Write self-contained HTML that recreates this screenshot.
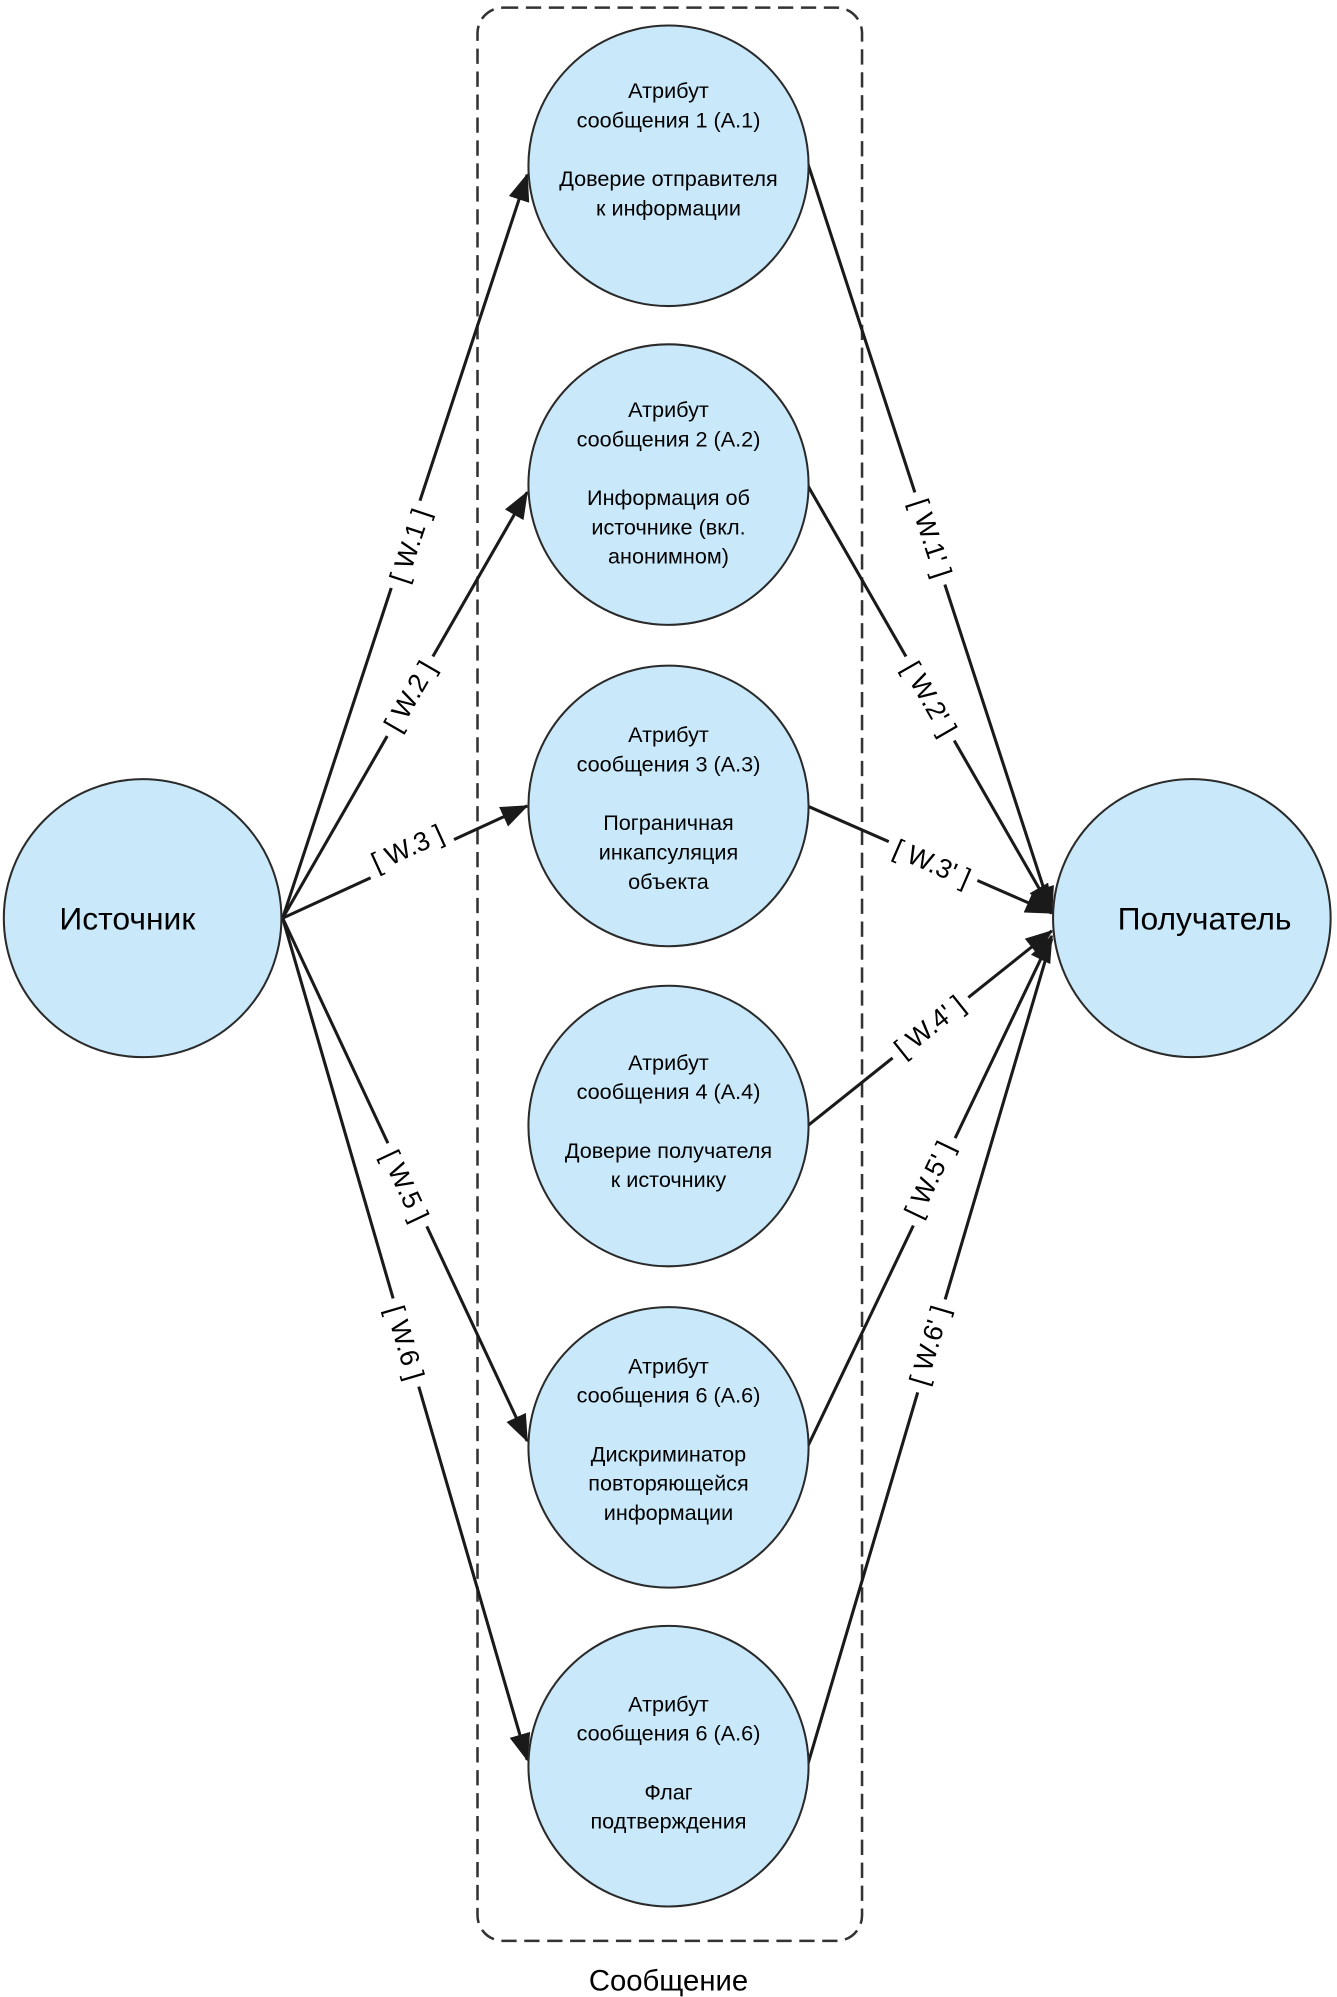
<!DOCTYPE html>
<html><head><meta charset="utf-8"><style>
html,body{margin:0;padding:0;background:#fff;}
svg{display:block;}
text{font-family:"Liberation Sans",Arial,sans-serif;fill:#000;}
.c{fill:#c9e9fa;stroke:#2a2a2a;stroke-width:1.6;}
.t{font-size:17px;text-anchor:middle;}
.l{font-size:21px;text-anchor:middle;dominant-baseline:central;}
.ln{stroke:#1a1a1a;stroke-width:2.4;fill:none;}
</style></head><body>
<svg width="1337" height="1997" viewBox="0 0 1050 1566" preserveAspectRatio="none">
<defs><marker id="a" markerWidth="9" markerHeight="7" refX="8.5" refY="3.5" orient="auto" markerUnits="strokeWidth"><path d="M0,0 L9,3.5 L0,7 z" fill="#1a1a1a"/></marker></defs>
<rect x="375" y="6" width="302" height="1516" rx="20" fill="none" stroke="#333" stroke-width="2" stroke-dasharray="12,6"/>
<text x="525" y="1561" font-size="23" text-anchor="middle">Сообщение</text>

<g class="ln">
<line x1="222" y1="720" x2="414" y2="137" marker-end="url(#a)"/>
<line x1="222" y1="720" x2="414" y2="386" marker-end="url(#a)"/>
<line x1="222" y1="720" x2="414" y2="632" marker-end="url(#a)"/>
<line x1="222" y1="720" x2="414" y2="1130" marker-end="url(#a)"/>
<line x1="222" y1="720" x2="414" y2="1380" marker-end="url(#a)"/>
<line x1="634" y1="127" x2="826" y2="716" marker-end="url(#a)"/>
<line x1="634" y1="380" x2="826" y2="714" marker-end="url(#a)"/>
<line x1="634" y1="632" x2="826" y2="716" marker-end="url(#a)"/>
<line x1="634" y1="883" x2="826" y2="730" marker-end="url(#a)"/>
<line x1="634" y1="1135" x2="826" y2="734" marker-end="url(#a)"/>
<line x1="634" y1="1385" x2="826" y2="736"/>
</g>

<circle class="c" cx="112" cy="720" r="109"/>
<text x="100" y="729" font-size="25" text-anchor="middle">Источник</text>
<circle class="c" cx="936" cy="720" r="109"/>
<text x="946" y="729" font-size="25" text-anchor="middle">Получатель</text>

<circle class="c" cx="525" cy="130" r="110"/>
<text class="t" x="525" y="77">Атрибут</text><text class="t" x="525" y="100">сообщения 1 (А.1)</text>
<text class="t" x="525" y="146">Доверие отправителя</text><text class="t" x="525" y="169">к информации</text>

<circle class="c" cx="525" cy="380" r="110"/>
<text class="t" x="525" y="327">Атрибут</text><text class="t" x="525" y="350">сообщения 2 (А.2)</text>
<text class="t" x="525" y="396">Информация об</text><text class="t" x="525" y="419">источнике (вкл.</text><text class="t" x="525" y="442">анонимном)</text>

<circle class="c" cx="525" cy="632" r="110"/>
<text class="t" x="525" y="582">Атрибут</text><text class="t" x="525" y="605">сообщения 3 (А.3)</text>
<text class="t" x="525" y="651">Пограничная</text><text class="t" x="525" y="674">инкапсуляция</text><text class="t" x="525" y="697">объекта</text>

<circle class="c" cx="525" cy="883" r="110"/>
<text class="t" x="525" y="839">Атрибут</text><text class="t" x="525" y="862">сообщения 4 (А.4)</text>
<text class="t" x="525" y="908">Доверие получателя</text><text class="t" x="525" y="931">к источнику</text>

<circle class="c" cx="525" cy="1135" r="110"/>
<text class="t" x="525" y="1077">Атрибут</text><text class="t" x="525" y="1100">сообщения 6 (А.6)</text>
<text class="t" x="525" y="1146">Дискриминатор</text><text class="t" x="525" y="1169">повторяющейся</text><text class="t" x="525" y="1192">информации</text>

<circle class="c" cx="525" cy="1385" r="110"/>
<text class="t" x="525" y="1342">Атрибут</text><text class="t" x="525" y="1365">сообщения 6 (А.6)</text>
<text class="t" x="525" y="1411">Флаг</text><text class="t" x="525" y="1434">подтверждения</text>

<g transform="translate(322,428) rotate(-71.7)"><rect x="-36" y="-12" width="72" height="24" fill="#fff"/><text class="l" x="0" y="0">[ W.1 ]</text></g>
<g transform="translate(322,546) rotate(-60)"><rect x="-36" y="-12" width="72" height="24" fill="#fff"/><text class="l" x="0" y="0">[ W.2 ]</text></g>
<g transform="translate(320,665) rotate(-24.5)"><rect x="-36" y="-12" width="72" height="24" fill="#fff"/><text class="l" x="0" y="0">[ W.3 ]</text></g>
<g transform="translate(318,930) rotate(64.8)"><rect x="-36" y="-12" width="72" height="24" fill="#fff"/><text class="l" x="0" y="0">[ W.5 ]</text></g>
<g transform="translate(318,1053) rotate(73.7)"><rect x="-36" y="-12" width="72" height="24" fill="#fff"/><text class="l" x="0" y="0">[ W.6 ]</text></g>
<g transform="translate(731,422) rotate(72)"><rect x="-38" y="-12" width="76" height="24" fill="#fff"/><text class="l" x="0" y="0">[ W.1' ]</text></g>
<g transform="translate(730,548) rotate(60)"><rect x="-38" y="-12" width="76" height="24" fill="#fff"/><text class="l" x="0" y="0">[ W.2' ]</text></g>
<g transform="translate(732,677) rotate(23.4)"><rect x="-38" y="-12" width="76" height="24" fill="#fff"/><text class="l" x="0" y="0">[ W.3' ]</text></g>
<g transform="translate(730,805) rotate(-38.6)"><rect x="-38" y="-12" width="76" height="24" fill="#fff"/><text class="l" x="0" y="0">[ W.4' ]</text></g>
<g transform="translate(730,925) rotate(-64.4)"><rect x="-38" y="-12" width="76" height="24" fill="#fff"/><text class="l" x="0" y="0">[ W.5' ]</text></g>
<g transform="translate(730,1055) rotate(-73.5)"><rect x="-38" y="-12" width="76" height="24" fill="#fff"/><text class="l" x="0" y="0">[ W.6' ]</text></g>
</svg>
</body></html>
